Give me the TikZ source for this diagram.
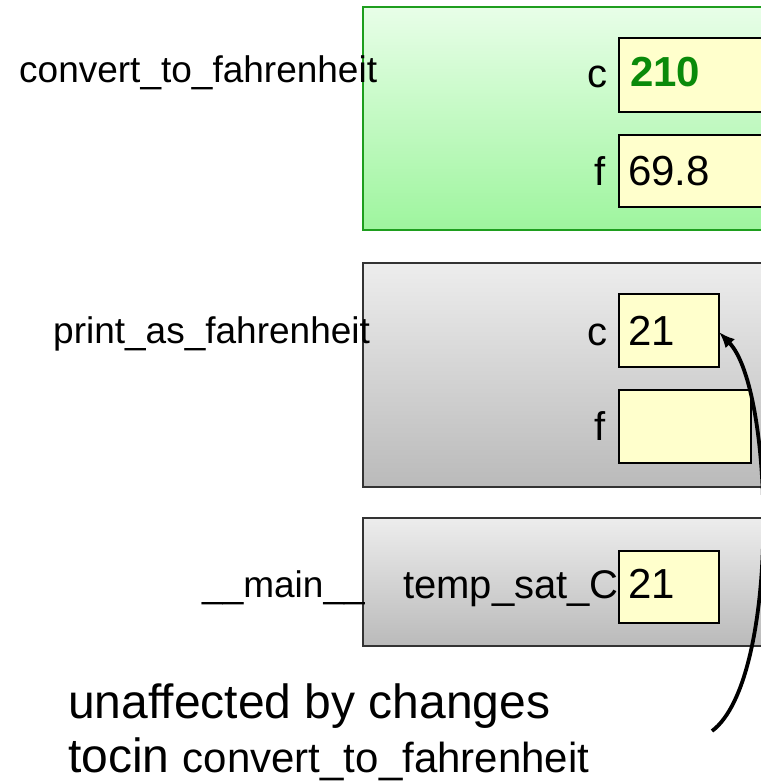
\documentclass[tikz,border=0pt]{standalone}
\usepackage{fontspec}
\setmainfont{Liberation Sans}
\usetikzlibrary{arrows.meta}
\definecolor{gtop}{HTML}{E8FEE8}
\definecolor{gbot}{HTML}{9EF59E}
\definecolor{gborder}{HTML}{1E9E1E}
\definecolor{stop}{HTML}{EDEDED}
\definecolor{sbot}{HTML}{BABABA}
\definecolor{sborder}{HTML}{333333}
\definecolor{valfill}{HTML}{FFFFCC}
\definecolor{valgreen}{HTML}{0A8A0A}
\tikzset{
  fs/.style={font=\fontsize{#1}{#1}\selectfont},
  txt/.style={inner sep=0pt, anchor=base west},
  txtr/.style={inner sep=0pt, anchor=base east},
  framegreen/.style={draw=gborder, line width=2pt, top color=gtop, bottom color=gbot},
  framegray/.style={draw=sborder, line width=2pt, top color=stop, bottom color=sbot},
  valbox/.style={draw=black, line width=2.5pt, fill=valfill},
  arrowline/.style={line width=3.8pt, -{Latex[length=16pt,width=13pt]}},
}
\begin{document}
\begin{tikzpicture}[x=1pt,y=-1pt]
\useasboundingbox (0,0) rectangle (760,781);
% frames
\path[framegreen] (363,7) rectangle (790,230);
\path[framegray] (363,263) rectangle (790,487);
\path[framegray] (363,518) rectangle (790,646);
% value boxes
\path[valbox] (619,38) rectangle (790,112);
\path[valbox] (619,135) rectangle (790,207);
\path[valbox] (619,294) rectangle (719,367);
\path[valbox] (619,390) rectangle (751,463);
\path[valbox] (619,551) rectangle (719,623);
\coordinate (c2e) at (719,332);
% frame labels
\node[txt, fs=37] (l1) at (19,83) {convert\_to\_fahrenheit};
\node[txt, fs=37] (l2) at (53,343) {print\_as\_fahrenheit};
\node[txt, fs=37] (l3) at (202,597) {\_\_main\_\_};
% variable names
\node[txtr, fs=40] (n1) at (608,88) {c};
\node[txtr, fs=40] (n2) at (606,185) {f};
\node[txtr, fs=40] (n3) at (608,345) {c};
\node[txtr, fs=40] (n4) at (606,440) {f};
\node[txt, fs=40] (n5) at (403,598) {temp\_sat\_C};
% values
\node[txt, fs=42, text=valgreen] (v1) at (630,87) {\bfseries 210};
\node[txt, fs=42] (v2) at (628,185) {69.8};
\node[txt, fs=42] (v3) at (628,345) {21};
\node[txt, fs=42] (v5) at (628,598) {21};
% bottom note
\node[txt, fs=48] (b1) at (68,718) {unaffected by changes};
\node[txt, fs=48] (b2) at (68,772) {tocin {\fontsize{42}{42}\selectfont convert\_to\_fahrenheit}};
% arrow
\coordinate (s) at (712,731);
\draw[arrowline] (s) .. controls (780,680) and (775,390) .. (c2e);
\end{tikzpicture}
\end{document}
